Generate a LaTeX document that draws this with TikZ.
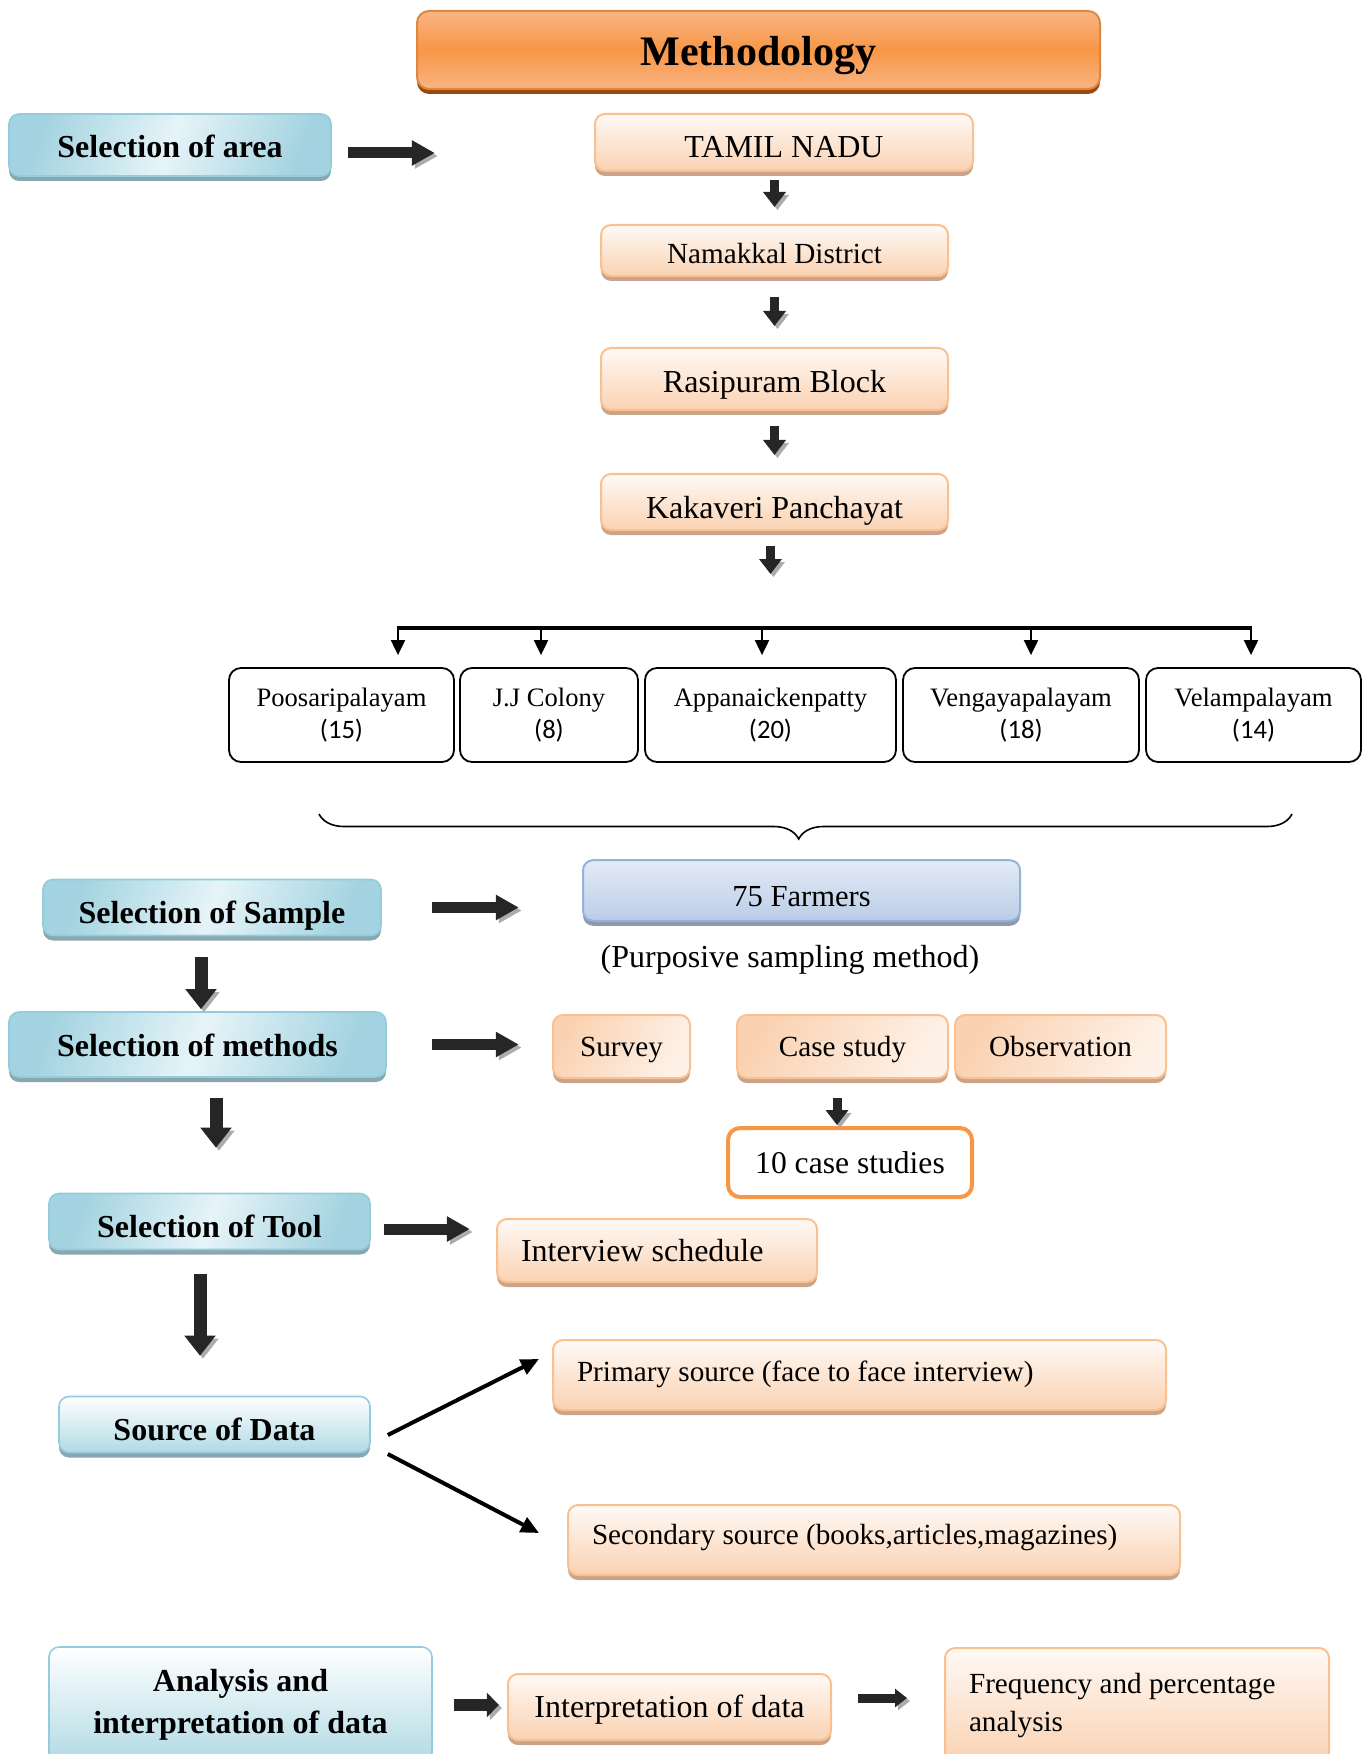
\documentclass[tikz,border=0pt]{standalone}
\usepackage{fontspec}
\setmainfont{Liberation Serif}
\newfontfamily\calibri{Carlito}
\usepackage{tikz}
\usetikzlibrary{arrows.meta,decorations.pathreplacing}

\definecolor{tealedge}{HTML}{93CDDD}
\definecolor{tealdark}{HTML}{A3D3E0}
\definecolor{teallight}{HTML}{E6F4F8}
\definecolor{tealshadow}{HTML}{8AA6AE}
\definecolor{peachedge}{HTML}{FAC090}
\definecolor{peachfill}{HTML}{FAD2B2}
\definecolor{peachlight}{HTML}{FEF1E7}
\definecolor{peachshadow}{HTML}{C9A48A}
\definecolor{titleorange}{HTML}{F79646}
\definecolor{titlelight}{HTML}{FAB583}
\definecolor{titleshadow}{HTML}{9A4A0C}
\definecolor{farmfill}{HTML}{BACDE6}
\definecolor{farmlight}{HTML}{E3EBF6}
\definecolor{farmedge}{HTML}{95B3D7}
\definecolor{farmshadow}{HTML}{8E9AAB}

\tikzset{
  shadowed/.style={preaction={fill=#1, transform canvas={yshift=-2.5pt}}},
  oneline/.style={text height=#1, text depth=4pt},
  bluebox/.style={draw=tealedge, line width=0.8pt, rounded corners=5pt,
    left color=tealdark, right color=tealdark, middle color=teallight, shading angle=70,
    shadowed=tealshadow, align=center, inner sep=2pt,
    font=\bfseries\fontsize{16}{21}\selectfont},
  bluevbox/.style={bluebox, top color=white, bottom color=tealdark!85},
  peachbox/.style={draw=peachedge, line width=1pt, rounded corners=5pt,
    top color=peachlight!40, bottom color=peachfill, shadowed=peachshadow,
    align=center, inner sep=2pt, font=\fontsize{16}{19}\selectfont},
  peachdiag/.style={peachbox, left color=peachfill, right color=peachlight, shading angle=60,
    font=\fontsize{14.6}{17}\selectfont},
  peachleft/.style={peachbox, align=flush left, inner xsep=12pt, font=\fontsize{14.6}{19}\selectfont},
  titlebox/.style={draw=titleorange!90!black, line width=1pt, rounded corners=6pt,
    top color=titlelight, bottom color=titlelight, middle color=titleorange,
    preaction={fill=titleshadow, transform canvas={yshift=-2.5pt}},
    font=\bfseries\fontsize{21}{25}\selectfont},
  farmbox/.style={draw=farmedge, line width=1pt, rounded corners=5pt,
    top color=farmlight, bottom color=farmfill, shadowed=farmshadow,
    font=\fontsize{15.3}{18}\selectfont},
  casebox/.style={draw=titleorange, line width=2pt, rounded corners=6pt, fill=white,
    font=\fontsize{15.8}{19}\selectfont},
  village/.style={draw=black, line width=0.9pt, rounded corners=6pt, fill=white,
    align=center, inner sep=1pt, font=\fontsize{13.3}{16}\selectfont},
  arrowshadow/.style={preaction={draw=gray!65, transform canvas={shift={(1.5pt,-1.5pt)}}}},
  fatarrow/.style={draw=black!85, arrowshadow, line width=5.5pt, -{Triangle[length=11.5pt,width=12pt]}},
  tallarrow/.style={draw=black!85, arrowshadow, line width=6.5pt, -{Triangle[length=10pt,width=15pt]}},
  smallarrow/.style={draw=black!85, arrowshadow, line width=4.5pt, -{Triangle[length=7.5pt,width=11pt]}},
  midarrow/.style={draw=black!85, arrowshadow, line width=6pt, -{Triangle[length=6pt,width=12pt]}},
  tinyarrow/.style={draw=black!85, arrowshadow, line width=4.5pt, -{Triangle[length=6pt,width=9pt]}},
  thinarrow/.style={line width=1pt, -{Triangle[length=7.5pt,width=7pt]}, shorten >=6pt},
  busline/.style={line width=2pt},
  srcarrow/.style={line width=2pt, -{Triangle[length=9pt,width=8pt]}},
  bracestyle/.style={line width=0.8pt, decorate, decoration={brace, amplitude=12.5pt, aspect=0.507}}
}

\begin{document}
\begin{tikzpicture}[x=0.5pt, y=-0.5pt]
\useasboundingbox (0,0) rectangle (1367,1754);

% area
\node[titlebox, oneline=20.9pt, text depth=5pt, minimum width=341.5pt, minimum height=39pt] (title) at (758.5,50) {Methodology};
\node[bluebox, oneline=16.6pt, minimum width=161pt, minimum height=31pt] (area) at (170,145) {Selection of area};
\node[peachbox, oneline=18.8pt, minimum width=189pt, minimum height=28.5pt] (tamil) at (784,142.5) {TAMIL NADU};
\node[peachbox, oneline=16.9pt, font=\fontsize{14.6}{17}\selectfont, minimum width=173.5pt, minimum height=25.5pt] (namakkal) at (774.5,250.5) {Namakkal District};
\node[peachbox, oneline=17.8pt, minimum width=173.5pt, minimum height=31pt] (rasipuram) at (774.5,379) {Rasipuram Block};
\node[peachbox, oneline=20pt, minimum width=173.5pt, minimum height=28pt] (kakaveri) at (774.5,502) {Kakaveri Panchayat};

\draw[fatarrow] ([xshift=8pt,yshift=-4pt]area.east) -- ++(87,0);
\draw[smallarrow] ([yshift=-4pt]tamil.south -| namakkal.north) -- ([yshift=8.5pt]namakkal.north);
\draw[smallarrow] ([yshift=-10pt]namakkal.south) -- ([yshift=10.5pt]rasipuram.north);
\draw[smallarrow] ([yshift=-7.5pt]rasipuram.south) -- ([yshift=9pt]kakaveri.north);
\draw[smallarrow] ([xshift=-2pt,yshift=-7.5pt]kakaveri.south) -- ++(0,28);

% villages
\node[village, minimum width=112.5pt, minimum height=47pt] (poo) at (341.5,715) {Poosaripalayam\\{\calibri (15)}};
\node[village, minimum width=89pt, minimum height=47pt] (jj) at (549,715) {J.J Colony\\{\calibri (8)}};
\node[village, minimum width=125.5pt, minimum height=47pt] (app) at (770.5,715) {Appanaickenpatty\\{\calibri (20)}};
\node[village, minimum width=118pt, minimum height=47pt] (ven) at (1021,715) {Vengayapalayam\\{\calibri (18)}};
\node[village, minimum width=107.5pt, minimum height=47pt] (vel) at (1253.5,715) {Velampalayam\\{\calibri (14)}};

\foreach \bx/\v in {398/poo,541/jj,762/app,1031/ven,1251/vel}
  \coordinate (b\v) at (\bx,628);
\draw[busline] ([xshift=-0.5pt]bpoo) -- ([xshift=0.5pt]bvel);
\foreach \v in {poo,jj,app,ven,vel}
  \draw[thinarrow] (b\v) -- (b\v |- \v.north);

\draw[bracestyle] (1292,814) -- (319,814);

% sample
\node[bluebox, oneline=20pt, minimum width=169pt, minimum height=27.5pt] (sample) at (212,907.5) {Selection of Sample};
\node[farmbox, oneline=19.6pt, minimum width=218.5pt, minimum height=28.5pt] (farmers) at (801.5,890.5) {75 Farmers};
\node[font=\fontsize{16}{19}\selectfont, oneline=17.8pt] (purposive) at (790,954) {(Purposive sampling method)};
\draw[fatarrow] ([xshift=25pt]sample.east) -- ++(87,0);

% methods
\node[bluebox, oneline=15.6pt, minimum width=188.5pt, minimum height=32.5pt] (methods) at (197.5,1044.5) {Selection of methods};
\node[peachdiag, oneline=13.5pt, minimum width=68.5pt, minimum height=31.5pt] (survey) at (621.5,1046.5) {Survey};
\node[peachdiag, oneline=13.5pt, minimum width=105.5pt, minimum height=31.5pt] (casestudy) at (842.5,1046.5) {Case study};
\node[peachdiag, oneline=13.5pt, minimum width=105.5pt, minimum height=31.5pt] (observation) at (1060.5,1046.5) {Observation};
\node[casebox, minimum width=122pt, minimum height=34.5pt] (cases) at (850,1162.5) {10 case studies};

\draw[tallarrow] ([xshift=-5.5pt,yshift=-10.5pt]sample.south) -- ([xshift=1.75pt,yshift=1pt]methods.north);
\draw[fatarrow] ([xshift=22.5pt]methods.east) -- ++(87,0);
\draw[smallarrow] ([xshift=-2.75pt,yshift=-9.5pt]casestudy.south) -- ([xshift=-6.5pt,yshift=0.5pt]cases.north);

% tool
\node[bluebox, oneline=20pt, minimum width=160.5pt, minimum height=26.5pt] (tool) at (209.5,1221.5) {Selection of Tool};
\node[peachleft, font=\fontsize{16}{19}\selectfont, text width=136pt, minimum height=31.5pt] (interview) at (657,1250.5) {Interview schedule};

\draw[tallarrow] ([xshift=9.25pt,yshift=-10pt]methods.south) -- ([xshift=3.25pt,yshift=22.5pt]tool.north);
\draw[fatarrow] ([xshift=6.5pt,yshift=-3.75pt]tool.east) -- ++(86,0);

% source
\node[bluevbox, oneline=20pt, minimum width=155.5pt, minimum height=27.5pt] (source) at (214.5,1424.5) {Source of Data};
\node[peachleft, text width=282.5pt, minimum height=35pt, text height=14pt, text depth=8pt] (primary) at (859.5,1375) {Primary source (face to face interview)};
\node[peachleft, text width=282pt, minimum height=35pt, text height=12pt, text depth=8pt] (secondary) at (874,1540) {Secondary source (books,articles,magazines)};

\draw[tallarrow] ([xshift=-4.75pt,yshift=-12pt]tool.south) -- ([xshift=-7.25pt,yshift=20pt]source.north);
\draw[srcarrow] ([xshift=8.5pt,yshift=-5.25pt]source.east) -- ([xshift=-6.5pt,yshift=8pt]primary.west);
\draw[srcarrow] ([xshift=8.5pt,yshift=-14.75pt]source.east) -- ([xshift=-14pt,yshift=3.5pt]secondary.west);

% analysis
\node[bluevbox, minimum width=191.5pt, minimum height=58pt] (analysis) at (240.5,1705) {Analysis and\\interpretation of data};
\node[peachbox, oneline=14.4pt, minimum width=161.5pt, minimum height=33pt] (interp) at (669.5,1707) {Interpretation of data};
\node[peachleft, text width=168pt, minimum height=57.5pt] (freq) at (1137,1705.5) {Frequency and percentage\\analysis};

\draw[midarrow] ([xshift=10.5pt]analysis.east) -- ++(45,0);
\draw[tinyarrow] ([xshift=13pt,yshift=4.5pt]interp.east) -- ++(49,0);

\end{tikzpicture}
\end{document}
